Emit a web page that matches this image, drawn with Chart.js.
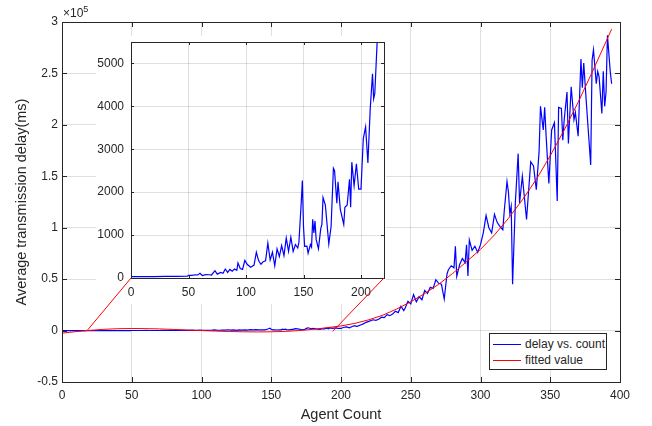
<!DOCTYPE html>
<html>
<head>
<meta charset="utf-8">
<script src="https://cdn.jsdelivr.net/npm/chart.js@4.4.0/dist/chart.umd.min.js"></script>
<style>
  body { margin: 0; background: #fff; }
  #wrap { position: relative; width: 652px; height: 426px; font-family: 'Liberation Sans', Arial, sans-serif; color: #262626; }
  canvas { position: absolute; left: 0; top: 0; }
  #insetChart { left: 96px; top: 36px; background: #fff; }
  #exp { position: absolute; left: 63px; top: 6px; font-size: 12px; line-height: 14px; }
  #exp span { font-size: 9px; position: relative; top: -5px; }
  #legend { position: absolute; left: 489px; top: 333px; width: 118px; height: 37px; box-sizing: border-box;
    border: 1px solid #262626; background: #fff; padding-top: 2px; font-size: 12px; }
  #legend .row { height: 16px; line-height: 16px; white-space: nowrap; }
  #legend .sw { display: inline-block; width: 28px; height: 1px; margin: 0 4px 0 3px; vertical-align: middle; }
</style>
</head>
<body>
<div id="wrap">
  <canvas id="mainChart" width="652" height="426"></canvas>
  <canvas id="insetChart" width="290" height="268"></canvas>
  <canvas id="zoomLines" width="652" height="426"></canvas>
  <div id="exp">×10<span>5</span></div>
  <div id="legend">
    <div class="row"><span class="sw" style="background:#0000ff"></span>delay vs. count</div>
    <div class="row"><span class="sw" style="background:#ff0000"></span>fitted value</div>
  </div>
</div>
<script>
// measured delay (ms) vs agent count
const delayX = [
  0, 10, 20, 30, 40, 49, 50, 53, 56, 58,
  60, 62, 65, 68, 70, 73, 75, 78, 80, 82,
  84, 86, 88, 90, 92, 93, 95, 97, 99, 101,
  104, 107, 109, 111, 113, 115, 117, 119, 121, 123,
  125, 127, 129, 131, 133, 135, 137, 139, 141, 143,
  145, 146, 148, 149, 150, 151, 153, 154, 156, 157,
  158, 159, 160, 161, 163, 165, 166, 167, 169, 172,
  174, 176, 177, 179, 180, 182, 185, 186, 188, 190,
  191, 192, 194, 196, 198, 200, 202, 204, 206, 208,
  210, 211, 212, 214, 216, 218, 220, 223, 225, 227,
  229, 231, 233, 235, 237, 239, 241, 243, 245, 246,
  248, 250, 252, 254, 256, 258, 260, 262, 264, 266,
  268, 270, 272, 274, 276, 277, 279, 281, 282, 283,
  285, 287, 289, 290, 291, 292, 294, 296, 298, 300,
  302, 304, 306, 308, 310, 312, 314, 316, 317, 319,
  320, 321, 322, 323, 325, 327, 328, 330, 333, 336,
  338, 340, 342, 343, 345, 346, 347, 349, 351, 353,
  355, 356, 358, 359, 360, 362, 363, 365, 367, 368,
  370, 372, 373, 374, 376, 379, 380, 381, 383, 384,
  385, 387, 388, 389, 390, 391, 393, 394
];
const delayMs = [
  30, 32, 34, 36, 38, 42, 62, 60, 75, 70,
  108, 58, 80, 76, 70, 170, 90, 130, 110, 209,
  130, 200, 160, 210, 180, 349, 220, 200, 411, 320,
  250, 300, 600, 400, 320, 380, 400, 814, 420, 600,
  283, 678, 500, 755, 520, 930, 620, 950, 620, 780,
  700, 830, 1741, 2270, 1200, 735, 740, 580, 780, 720,
  1370, 1050, 1330, 900, 680, 1150, 1250, 1876, 1700, 790,
  1200, 2558, 2500, 1744, 2240, 1600, 1250, 1650, 1700, 2300,
  1650, 2700, 2150, 2660, 2070, 2070, 3250, 3520, 2680, 3930,
  4760, 4180, 4300, 5480, 6500, 8000, 9000, 10500, 10000, 11000,
  13000, 12500, 15500, 14500, 16000, 18800, 17500, 23600, 19500, 22000,
  28400, 26000, 35000, 28000, 33000, 30000, 39000, 36000, 42000, 41000,
  49500, 46000, 45000, 30700, 55000, 59200, 63000, 61000, 82000, 52700,
  64000, 70000, 66000, 83500, 53000, 88000, 78000, 82000, 76000, 83500,
  95000, 112000, 100000, 95000, 113000, 105000, 101000, 98000, 116000, 145000,
  135000, 114000, 121000, 45000, 125000, 172000, 124000, 150000, 108000, 164000,
  160000, 137000, 174000, 218000, 195000, 217000, 190000, 143000, 195000, 202000,
  126000, 217000, 216000, 185000, 205000, 232000, 182000, 237000, 205000, 212000,
  189000, 264000, 236000, 260000, 219000, 161000, 263000, 273000, 240000, 252000,
  247000, 211000, 252000, 218000, 232000, 287000, 252000, 240000
];

// fitted curve (ms)
const fitX = [0, 10, 20, 30, 40, 50, 60, 70, 80, 90, 100, 110, 120, 130, 140, 150, 160, 170, 180, 190,
  200, 210, 220, 230, 240, 250, 260, 270, 280, 290, 300, 310, 320, 330, 340, 350, 360, 370, 380, 390, 394];
const fitMs = [-2500, -1000, 200, 1200, 1800, 2000, 1900, 1600, 1100, 500, 0, -500, -900, -1200, -1300, -1200, -800, 0, 1200, 2800,
  4500, 7000, 10500, 15000, 21000, 28000, 36000, 45000, 55500, 67000, 79000, 93000, 109000, 127000, 147000, 170000, 195000, 222000, 251000, 281000, 293000];

// zoom connector lines (main axes data coords)
const zoomLeftX = [18, 49.5];
const zoomLeftY = [0, 51100];
const zoomRightX = [194, 230.8];
const zoomRightY = [-800, 51100];

const mainXTicks = [0, 50, 100, 150, 200, 250, 300, 350, 400];
const mainYTicks = [-50000, 0, 50000, 100000, 150000, 200000, 250000, 300000];
const insetXTicks = [0, 50, 100, 150, 200];
const insetYTicks = [0, 1000, 2000, 3000, 4000, 5000];
const insetXMax = 220;
const insetYMax = 5500;

const toPts = (xs, ys) => xs.map((x, i) => ({ x: x, y: ys[i] }));
const setTicks = vals => scale => { scale.ticks = vals.map(v => ({ value: v })); };

Chart.defaults.font.family = "'Liberation Sans', Arial, sans-serif";
Chart.defaults.font.size = 12;
Chart.defaults.color = '#262626';

const gridColor = 'rgba(38,38,38,0.15)';

// matlab-like box with inward ticks
const boxPlugin = {
  id: 'box',
  afterDatasetsDraw(chart, args, opts) {
    if (!opts.show) return;
    const { ctx, chartArea: a, scales } = chart;
    const len = opts.tickLen || 5;
    ctx.save();
    ctx.strokeStyle = '#262626';
    ctx.lineWidth = 1;
    ctx.beginPath();
    scales.x.ticks.forEach(t => {
      const px = Math.round(scales.x.getPixelForValue(t.value)) + 0.5;
      ctx.moveTo(px, a.bottom); ctx.lineTo(px, a.bottom - len);
      ctx.moveTo(px, a.top); ctx.lineTo(px, a.top + len);
    });
    scales.y.ticks.forEach(t => {
      const py = Math.round(scales.y.getPixelForValue(t.value)) + 0.5;
      ctx.moveTo(a.left, py); ctx.lineTo(a.left + len, py);
      ctx.moveTo(a.right, py); ctx.lineTo(a.right - len, py);
    });
    ctx.stroke();
    ctx.strokeRect(Math.round(a.left) + 0.5, Math.round(a.top) + 0.5,
      Math.round(a.right - a.left), Math.round(a.bottom - a.top));
    ctx.restore();
  }
};

// same axes for the main chart and the transparent overlay with the zoom lines
function mainOptions(overlay) {
  const txt = overlay ? 'rgba(0,0,0,0)' : '#262626';
  return {
    responsive: false,
    animation: false,
    layout: { padding: { left: 13, top: 22, right: 32, bottom: 2 } },
    scales: {
      x: {
        type: 'linear', min: mainXTicks[0], max: mainXTicks[mainXTicks.length - 1],
        afterBuildTicks: setTicks(mainXTicks),
        ticks: { padding: 6, maxRotation: 0, color: txt },
        grid: { color: gridColor, drawTicks: false, display: !overlay },
        border: { display: false },
        title: { display: true, text: 'Agent Count', color: txt, font: { size: 14.5 }, padding: { top: 0, bottom: 0 } },
        afterFit: s => { s.height = 42; s.paddingLeft = 0; s.paddingRight = 0; }
      },
      y: {
        min: mainYTicks[0], max: mainYTicks[mainYTicks.length - 1],
        afterBuildTicks: setTicks(mainYTicks),
        ticks: { padding: 4, color: txt, callback: v => String(v / 1e5) },
        grid: { color: gridColor, drawTicks: false, display: !overlay },
        border: { display: false },
        title: { display: true, text: 'Average transmission delay(ms)', color: txt, font: { size: 14.5 }, padding: { top: 0, bottom: 0 } },
        afterFit: s => { s.width = 49; s.paddingTop = 0; s.paddingBottom = 0; }
      }
    },
    plugins: {
      legend: { display: false },
      tooltip: { enabled: false },
      box: { show: !overlay, tickLen: 5 }
    }
  };
}

const mainChart = new Chart(document.getElementById('mainChart'), {
  type: 'line',
  data: {
    datasets: [
      { label: 'delay vs. count', data: toPts(delayX, delayMs), borderColor: '#0000ff', borderWidth: 1.2, pointRadius: 0, order: 2 },
      { label: 'fitted value', data: toPts(fitX, fitMs), borderColor: '#ff0000', borderWidth: 1, pointRadius: 0, order: 1 }
    ]
  },
  options: mainOptions(false),
  plugins: [boxPlugin]
});

const insetChart = new Chart(document.getElementById('insetChart'), {
  type: 'line',
  data: {
    datasets: [
      { label: 'delay vs. count', data: toPts(delayX, delayMs), borderColor: '#0000ff', borderWidth: 1.2, pointRadius: 0 }
    ]
  },
  options: {
    responsive: false,
    animation: false,
    layout: { padding: { left: 0, top: 6, right: 2, bottom: 0 } },
    scales: {
      x: {
        type: 'linear', min: 0, max: insetXMax,
        afterBuildTicks: setTicks(insetXTicks),
        ticks: { padding: 7, maxRotation: 0, callback: v => String(v) },
        grid: { color: gridColor, drawTicks: false },
        border: { display: false },
        afterFit: s => { s.height = 26; s.paddingLeft = 0; s.paddingRight = 0; }
      },
      y: {
        min: 0, max: insetYMax,
        afterBuildTicks: setTicks(insetYTicks),
        ticks: { padding: 7, callback: v => String(v) },
        grid: { color: gridColor, drawTicks: false },
        border: { display: false },
        afterFit: s => { s.width = 35; s.paddingTop = 0; s.paddingBottom = 0; }
      }
    },
    plugins: {
      legend: { display: false },
      tooltip: { enabled: false },
      box: { show: true, tickLen: 3 }
    }
  },
  plugins: [boxPlugin]
});

// zoom connector lines drawn above the inset, on the main axes
const zoomChart = new Chart(document.getElementById('zoomLines'), {
  type: 'line',
  data: {
    datasets: [
      { label: 'zoomL', data: toPts(zoomLeftX, zoomLeftY), borderColor: '#ff0000', borderWidth: 1, pointRadius: 0 },
      { label: 'zoomR', data: toPts(zoomRightX, zoomRightY), borderColor: '#ff0000', borderWidth: 1, pointRadius: 0 }
    ]
  },
  options: mainOptions(true),
  plugins: [boxPlugin]
});
</script>
</body>
</html>
